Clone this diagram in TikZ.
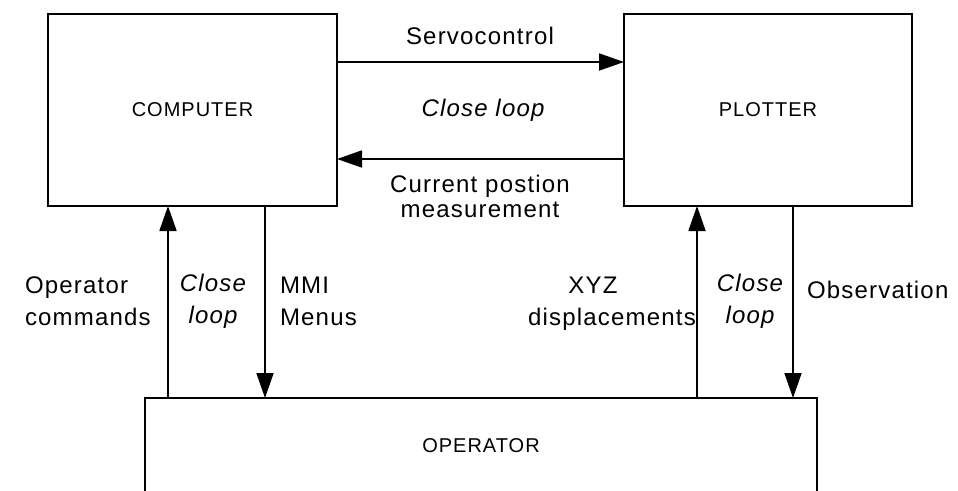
\documentclass[tikz,border=0pt]{standalone}
\usepackage{fontspec}
\setmainfont{Liberation Sans}[LetterSpace=5]
\usetikzlibrary{arrows.meta}

\begin{document}
\begin{tikzpicture}[x=1pt, y=-1pt,
    %Option for nice arrows
    >={Triangle[length=25pt,width=17pt]},
    inner sep=0pt, outer sep=0pt,%
    block/.style={draw, line width=1.3pt, minimum width=#1},
    blocktext/.style={font=\fontsize{20}{24}\selectfont},
    link/.style={line width=1.8pt,->},
    tag/.style={font=\fontsize{24}{32}\selectfont, align=center, anchor=base},
    looptag/.style={tag, font=\fontsize{24}{32}\selectfont\itshape},
]
    % Frame
    \useasboundingbox (0,0) rectangle (958,490);
    \clip (0,0) rectangle (958,490);

    % Blocks
    \node[block=289pt, minimum height=192pt, blocktext] (computer) at (192.5,110) {COMPUTER};
    \node[block=288pt, minimum height=192pt, blocktext] (plotter)  at (768,110)   {PLOTTER};
    \node[block=672pt, minimum height=96pt,  blocktext] (operator) at (481,446)   {OPERATOR}; % open at the bottom

    % Loop between computer and plotter
    \draw[link] ([yshift=48pt]computer.east) -- ([yshift=48pt]plotter.west);
    \draw[link] ([yshift=-49pt]plotter.west) -- ([yshift=-49pt]computer.east);

    \node[tag]     (servo)   at (480,44)  {Servocontrol};
    \node[looptag] (loopmid) at (483,116) {Close loop};
    \node[tag]     (curpos)  at (480,217) {Current postion\\[-7pt]measurement};

    % Links to the operator
    \coordinate (cmd) at ([xshift=120pt]computer.south west);
    \coordinate (mmi) at ([xshift=217pt]computer.south west);
    \coordinate (xyz) at ([xshift=73pt]plotter.south west);
    \coordinate (obs) at ([xshift=169pt]plotter.south west);

    \draw[link] (cmd |- operator.north) -- (cmd);
    \draw[link] (mmi) -- (mmi |- operator.north);
    \draw[link] (xyz |- operator.north) -- (xyz);
    \draw[link] (obs) -- (obs |- operator.north);

    % (multi-line tags sit on their last baseline)
    \node[tag, align=left, anchor=base west] (cmdtext) at (25,325)  {Operator\\commands};
    \node[looptag] (loopleft)                at (213,323) {Close\\loop};
    \node[tag, align=left, anchor=base west] (mmitext) at (280,325) {MMI\\Menus};
    \node[tag]     (xyztext)                 at (612,325) {XYZ\hspace*{38pt}\\displacements};
    \node[looptag] (loopright)               at (750,323) {Close\\loop};
    \node[tag, anchor=base west] (obstext)   at (807,298) {Observation};
\end{tikzpicture}
\end{document}
